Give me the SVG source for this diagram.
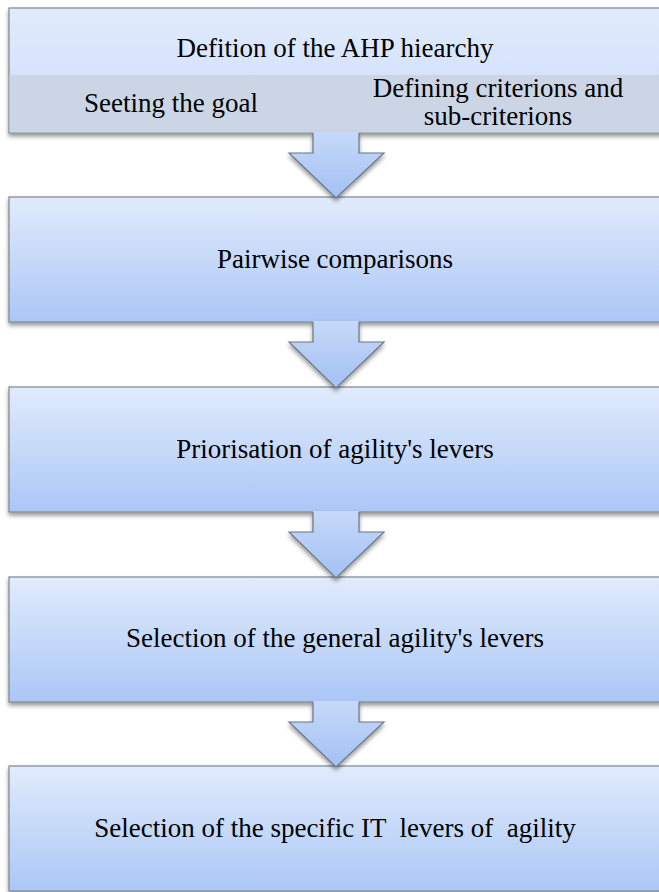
<svg xmlns="http://www.w3.org/2000/svg" width="659" height="892" viewBox="0 0 659 892">
<defs>
<linearGradient id="gBox" x1="0" y1="0" x2="0" y2="1">
<stop offset="0" stop-color="#e1ebfc"/>
<stop offset="1" stop-color="#abc7f6"/>
</linearGradient>
<linearGradient id="gTop" x1="0" y1="0" x2="0" y2="1">
<stop offset="0" stop-color="#e1ebfc"/>
<stop offset="1" stop-color="#cbdcf9"/>
</linearGradient>
<linearGradient id="gArrow" x1="0" y1="0" x2="0" y2="1">
<stop offset="0" stop-color="#c6d9f9"/>
<stop offset="1" stop-color="#a3c0f3"/>
</linearGradient>
<filter id="sh" x="-5%" y="-10%" width="110%" height="130%">
<feDropShadow dx="0" dy="3" stdDeviation="2" flood-color="#000" flood-opacity="0.4"/>
</filter>
</defs>
<style>
.box{fill:url(#gBox);stroke:#7e8592;stroke-width:1.2}
.lbl{font-size:27px;fill:#000;text-anchor:middle;white-space:pre}
.af{fill:url(#gArrow);stroke:none}
.as{fill:none;stroke:#6b7689;stroke-width:1.2;stroke-linejoin:miter}
</style>

<g id="node1" font-family="Liberation Serif, Times New Roman, serif">
<rect x="9" y="8" width="660" height="125" fill="url(#gTop)" stroke="#7e8592" stroke-width="1.2" filter="url(#sh)"/>
<rect x="9.6" y="75" width="660" height="57.4" fill="#cbd5e6"/>
<text class="lbl" x="335" y="57">Defition of the AHP hiearchy</text>
<text class="lbl" x="171" y="112">Seeting the goal</text>
<text class="lbl" x="498" y="97">Defining criterions and</text>
<text class="lbl" x="498" y="125">sub-criterions</text>
</g>

<g id="node2" font-family="Liberation Serif, Times New Roman, serif">
<rect class="box" x="9" y="197" width="660" height="125" filter="url(#sh)"/>
<text class="lbl" x="335" y="268">Pairwise comparisons</text>
</g>

<g id="node3" font-family="Liberation Serif, Times New Roman, serif">
<rect class="box" x="9" y="387" width="660" height="125" filter="url(#sh)"/>
<text class="lbl" x="335" y="458">Priorisation of agility's levers</text>
</g>

<g id="node4" font-family="Liberation Serif, Times New Roman, serif">
<rect class="box" x="9" y="577" width="660" height="125" filter="url(#sh)"/>
<text class="lbl" x="335" y="647">Selection of the general agility's levers</text>
</g>

<g id="node5" font-family="Liberation Serif, Times New Roman, serif">
<rect class="box" x="9" y="766" width="660" height="125" filter="url(#sh)"/>
<text class="lbl" x="335" y="837">Selection of the specific IT  levers of  agility</text>
</g>

<g id="connectors" filter="url(#sh)">
<g>
<path class="af" d="M313 132 L359 132 L359 153 L384 153 L336 198 L289 153 L313 153 Z"/>
<path class="as" d="M313 133 L313 153 L289 153 L336 198 L384 153 L359 153 L359 133"/>
</g>
<g>
<path class="af" d="M313 321 L359 321 L359 342 L384 342 L336 388 L289 342 L313 342 Z"/>
<path class="as" d="M313 322 L313 342 L289 342 L336 388 L384 342 L359 342 L359 322"/>
</g>
<g>
<path class="af" d="M313 511 L359 511 L359 532 L384 532 L336 578 L289 532 L313 532 Z"/>
<path class="as" d="M313 512 L313 532 L289 532 L336 578 L384 532 L359 532 L359 512"/>
</g>
<g>
<path class="af" d="M313 701 L359 701 L359 722 L384 722 L336 767 L289 722 L313 722 Z"/>
<path class="as" d="M313 702 L313 722 L289 722 L336 767 L384 722 L359 722 L359 702"/>
</g>
</g>
</svg>
